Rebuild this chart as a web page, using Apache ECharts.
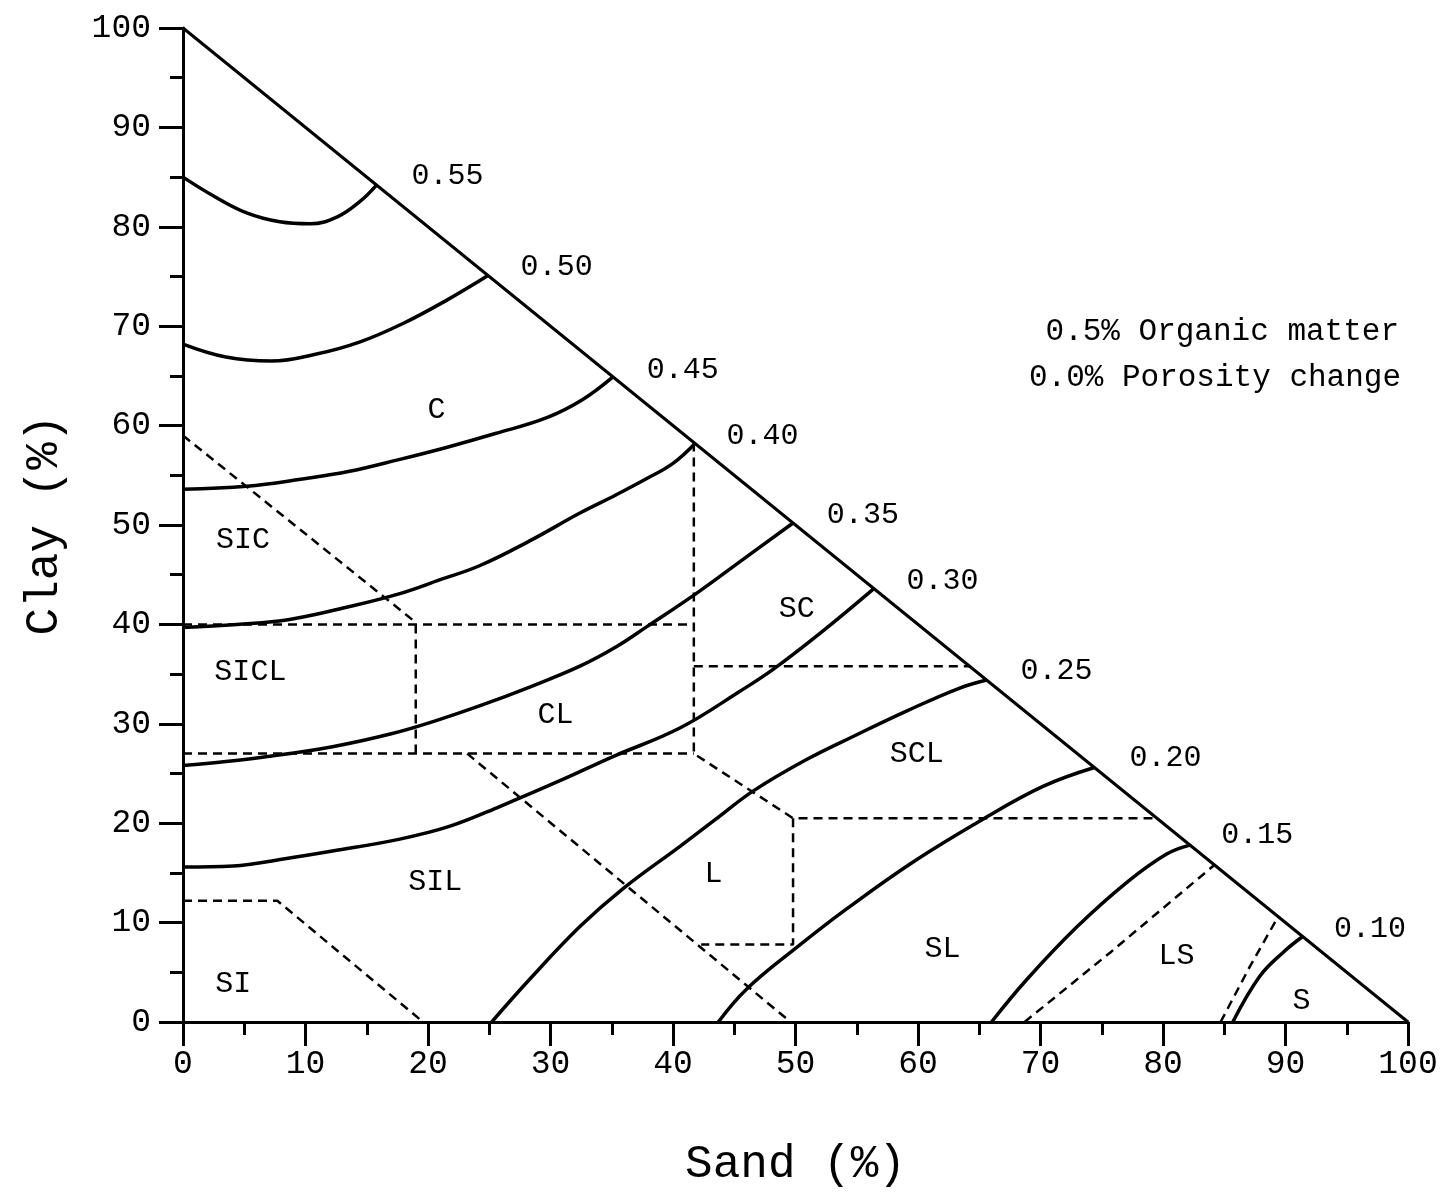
<!DOCTYPE html>
<html><head><meta charset="utf-8">
<script src="https://cdn.jsdelivr.net/npm/echarts@6/dist/echarts.min.js"></script>
<style>html,body{margin:0;padding:0;background:#fff}#c{width:1445px;height:1193px}</style>
</head><body><div id="c"></div>
<script>
// ---- Data (Sand %, Clay %) ----
const hypotenuse = [[0,100],[100,0]];

const contourLevels = ['0.55','0.50','0.45','0.40','0.35','0.30','0.25','0.20','0.15','0.10'];
const c055 = [[0,85.0],[2.5,83.1],[5.2,81.4],[7.9,80.5],[10.4,80.3],[12.6,81.0],[14.4,82.5],[15.8,84.2]];
const c050 = [[0,68.2],[3.5,66.9],[7.2,66.5],[10.9,67.2],[14.4,68.4],[18.0,70.3],[21.5,72.6],[24.9,75.1]];
const c045 = [[0,53.6],[5.2,53.9],[9.6,54.6],[13.6,55.4],[17.7,56.6],[21.5,57.8],[25.5,59.2],[29.7,60.8],[32.6,62.6],[35.1,64.9]];
const c040 = [[0,39.7],[4.4,40.0],[8.7,40.5],[13.6,41.8],[17.7,43.1],[21.0,44.5],[24.2,45.9],[28.3,48.4],[32.4,51.2],[35.3,53.0],[37.9,54.7],[40.0,56.2],[41.8,58.2]];
const c035 = [[0,25.8],[3.5,26.2],[6.9,26.7],[12.2,27.7],[17.0,29.0],[20.6,30.3],[24.2,31.8],[28.3,33.7],[32.4,35.8],[35.3,37.7],[37.9,39.8],[42.0,43.2],[46.0,46.8],[49.8,50.2]];
const c030 = [[0,15.6],[4.1,15.7],[8.2,16.4],[12.2,17.2],[17.7,18.4],[21.8,19.7],[25.9,21.7],[31.0,24.4],[35.1,26.7],[40.6,29.6],[45.5,33.3],[48.2,35.5],[52.2,39.3],[56.4,43.6]];
const c025 = [[25.2,0],[28.3,4.3],[32.4,9.6],[35.9,13.4],[40.6,17.7],[43.6,20.5],[46.5,23.2],[50.9,26.4],[55.0,28.9],[59.1,31.3],[63.2,33.5],[65.6,34.4]];
const c020 = [[43.7,0],[46.0,3.3],[50.1,7.5],[54.2,11.4],[59.6,16.1],[65.3,20.4],[70.2,23.7],[74.4,25.6]];
const c015 = [[66.0,0],[68.9,4.3],[73.0,9.6],[77.1,14.1],[80.3,16.9],[82.2,17.8]];
const c010 = [[85.7,0],[87.9,4.6],[89.8,7.0],[91.4,8.6]];
const contours = [c055,c050,c045,c040,c035,c030,c025,c020,c015,c010];
const contourLabelX = [21.6,30.5,40.8,47.3,55.5,62.0,71.3,80.2,87.7,96.9];
const contourLabelY = [85.1,75.9,65.6,58.9,51.0,44.4,35.3,26.6,18.8,9.3];

// texture class boundaries (dashed)
const tClaySiC   = [[0,59],[19,40.2]];
const tClay40    = [[0,40],[41.7,40]];
const tSiclCl    = [[19,40],[19,27]];
const tClay27    = [[0,27],[41.7,27]];
const tClEast    = [[41.7,58.3],[41.7,27],[49.8,20.5],[79.5,20.5]];
const tScScl     = [[41.7,35.8],[64.2,35.8]];
const tLoamEast  = [[49.8,20.5],[49.8,7.8],[42.3,7.8]];
const tSilLoam   = [[23.2,27],[49.6,0]];
const tSiltSil   = [[0,12.2],[7.7,12.2],[19.6,0]];
const tLsSl      = [[68.7,0],[75.7,7.0],[84.2,15.8]];
const tSandLs    = [[84.7,0],[87.1,5.6],[89.4,10.6]];
const textureLines = [tClaySiC,tClay40,tSiclCl,tClay27,tClEast,tScScl,tLoamEast,tSilLoam,tSiltSil,tLsSl,tSandLs];

const regionNames = ['C','SIC','SICL','CL','SC','SCL','SIL','L','SL','SI','LS','S'];
const regionX = [20.7,4.9,5.5,30.4,50.1,59.9,20.6,43.3,62.0,4.1,81.1,91.3];
const regionY = [61.6,48.5,35.2,30.9,41.5,27.0,14.1,14.9,7.3,3.8,6.6,2.1];

const noteLines = ['0.5% Organic matter','0.0% Porosity change'];
const xTitle = 'Sand (%)', yTitle = 'Clay (%)';

// ---- Chart ----
const FONT = '"Liberation Mono", "DejaVu Sans Mono", monospace';
const chart = echarts.init(document.getElementById('c'), null, {renderer:'canvas'});
const series = [];
series.push({type:'line', data:hypotenuse, symbol:'none', lineStyle:{color:'#000', width:3}, silent:true, z:3});
contours.forEach(c => series.push({type:'line', data:c, smooth:0.4, symbol:'none', lineStyle:{color:'#000', width:3.5}, silent:true, z:4}));
textureLines.forEach(t => series.push({type:'line', data:t, symbol:'none', lineStyle:{color:'#000', width:2.5, type:[9,6]}, silent:true, z:2}));
const labelStyle = {show:true, position:'inside', formatter:'{b}', color:'#000', fontFamily:FONT, fontSize:30};
series.push({type:'scatter', symbolSize:1, itemStyle:{color:'rgba(0,0,0,0)', opacity:1}, silent:true, z:6,
  data: contourLevels.map((n,i)=>({name:n, value:[contourLabelX[i], contourLabelY[i]]})),
  label:labelStyle});
series.push({type:'scatter', symbolSize:1, itemStyle:{color:'rgba(0,0,0,0)', opacity:1}, silent:true, z:6,
  data: regionNames.map((n,i)=>({name:n, value:[regionX[i], regionY[i]]})),
  label:labelStyle});

const axisCommon = {
  type:'value', min:0, max:100, interval:10,
  axisLine:{show:true, lineStyle:{color:'#000', width:3}},
  axisTick:{show:true, length:24, lineStyle:{color:'#000', width:3}},
  minorTick:{show:true, splitNumber:2, length:13, lineStyle:{color:'#000', width:3}},
  splitLine:{show:false}, minorSplitLine:{show:false},
  nameLocation:'middle',
  nameTextStyle:{fontFamily:FONT, fontSize:46, color:'#000'}
};
chart.setOption({
  animation:false,
  backgroundColor:'#fff',
  grid:{left:183, right:37, top:28, bottom:170, containLabel:false},
  xAxis:Object.assign({}, axisCommon, {name:xTitle, nameGap:120,
    axisLabel:{margin:26, fontFamily:FONT, fontSize:33, color:'#000'}}),
  yAxis:Object.assign({}, axisCommon, {name:yTitle, nameGap:115,
    axisLabel:{margin:32, fontFamily:FONT, fontSize:33, color:'#000'}}),
  graphic:[
    {type:'text', right:46, top:316, style:{text:noteLines[0], font:'31px '+FONT, fill:'#000', textAlign:'right'}},
    {type:'text', right:44, top:362, style:{text:noteLines[1], font:'31px '+FONT, fill:'#000', textAlign:'right'}}
  ],
  series:series
});
</script></body></html>
